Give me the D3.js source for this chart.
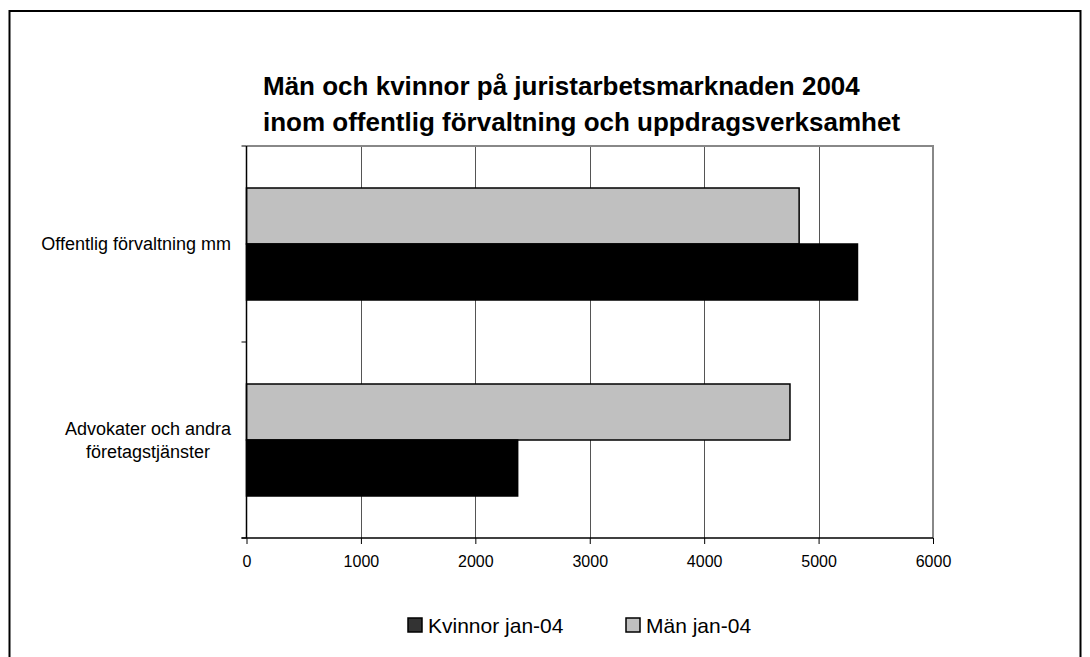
<!DOCTYPE html>
<html>
<head>
<meta charset="utf-8">
<script src="https://cdn.jsdelivr.net/npm/d3@7"></script>
<style>
  body { margin: 0; background: #fff; }
  svg { display: block; font-family: Arial, "Liberation Sans", sans-serif; }
</style>
</head>
<body>
<div id="chart"></div>
<script>
var categories = ["Offentlig förvaltning mm", "Advokater och andra företagstjänster"];
var categoryLines = [["Offentlig förvaltning mm"], ["Advokater och andra", "företagstjänster"]];
var seriesNames = ["Män jan-04", "Kvinnor jan-04"];
var manValues = [4830, 4750];
var kvinnorValues = [5340, 2370];
var xTicks = [0, 1000, 2000, 3000, 4000, 5000, 6000];
var titleLines = ["Män och kvinnor på juristarbetsmarknaden 2004", "inom offentlig förvaltning och uppdragsverksamhet"];

var width = 1090, height = 657;
var plot = { left: 246.5, right: 933, top: 146, bottom: 538 };

var svg = d3.select("#chart").append("svg")
    .attr("width", width)
    .attr("height", height);

// frame
svg.append("rect")
    .attr("x", 9.5).attr("y", 11)
    .attr("width", 1071).attr("height", 660)
    .attr("fill", "none")
    .attr("stroke", "#000")
    .attr("stroke-width", 2);

// title
svg.append("g").selectAll("text")
    .data(titleLines)
    .enter().append("text")
    .attr("x", 263)
    .attr("y", function (d, i) { return 95 + i * 36; })
    .style("font-size", "26px")
    .style("font-weight", "bold")
    .text(function (d) { return d; });

var x = d3.scaleLinear().domain([0, 6000]).range([plot.left, plot.right]);

var y = d3.scaleBand().domain(categories).range([plot.top, plot.bottom]).padding(0);

var ySub = d3.scaleBand().domain(seriesNames)
    .range([0, y.bandwidth()])
    .paddingInner(0)
    .paddingOuter(0.75);

var color = d3.scaleOrdinal().domain(seriesNames).range(["#c0c0c0", "#000000"]);

// grid lines
svg.append("g").selectAll("line")
    .data(xTicks.slice(1, -1))
    .enter().append("line")
    .attr("x1", function (d) { return Math.round(x(d)) + 0.5; })
    .attr("x2", function (d) { return Math.round(x(d)) + 0.5; })
    .attr("y1", plot.top)
    .attr("y2", plot.bottom)
    .attr("stroke", "#555")
    .attr("stroke-width", 1);

// plot border top / right
svg.append("path")
    .attr("d", "M" + plot.left + "," + plot.top + "H" + plot.right + "V" + plot.bottom)
    .attr("fill", "none")
    .attr("stroke", "#888")
    .attr("stroke-width", 2);

// bars
var rows = categories.map(function (c, i) {
    return [
        { cat: c, series: seriesNames[0], value: manValues[i] },
        { cat: c, series: seriesNames[1], value: kvinnorValues[i] }
    ];
});

var groups = svg.append("g").selectAll("g")
    .data(rows)
    .enter().append("g")
    .attr("transform", function (d) { return "translate(0," + y(d[0].cat) + ")"; });

groups.selectAll("rect")
    .data(function (d) { return d; })
    .enter().append("rect")
    .attr("x", x(0))
    .attr("y", function (d) { return ySub(d.series); })
    .attr("width", function (d) { return x(d.value) - x(0); })
    .attr("height", ySub.bandwidth())
    .attr("fill", function (d) { return color(d.series); })
    .attr("stroke", "#000")
    .attr("stroke-width", 1.5);

// x axis
var xAxis = svg.append("g")
    .attr("transform", "translate(0," + plot.bottom + ")")
    .call(d3.axisBottom(x).tickValues(xTicks).tickSize(6).tickPadding(12).tickFormat(d3.format("d")));
xAxis.select(".domain").attr("stroke", "#000").attr("stroke-width", 1.5)
    .attr("d", "M" + (plot.left - 5) + ",0H" + plot.right);
xAxis.selectAll(".tick line").attr("stroke", "#000");
xAxis.selectAll(".tick text")
    .style("font-size", "16px")
    .style("font-family", "Arial, 'Liberation Sans', sans-serif")
    .attr("fill", "#000");

// y axis
var yAxisG = svg.append("g").attr("transform", "translate(" + plot.left + ",0)");
yAxisG.append("line")
    .attr("x1", 0).attr("x2", 0)
    .attr("y1", plot.top).attr("y2", plot.bottom)
    .attr("stroke", "#000").attr("stroke-width", 1.5);
yAxisG.selectAll(".ytick")
    .data([plot.top, plot.top + y.step(), plot.bottom])
    .enter().append("line")
    .attr("x1", -5).attr("x2", 0)
    .attr("y1", function (d) { return d; })
    .attr("y2", function (d) { return d; })
    .attr("stroke", "#000");

// category labels
var labelRight = 231;
categories.forEach(function (c, i) {
    var lines = categoryLines[i];
    var cy = y(c) + y.bandwidth() / 2;
    var t = svg.append("text")
        .style("font-size", "18px")
        .attr("fill", "#000");
    lines.forEach(function (l, j) {
        t.append("tspan")
            .attr("y", cy + 6 + (j - (lines.length - 1) / 2) * 23)
            .text(l);
    });
    var maxW = 0;
    t.selectAll("tspan").each(function () {
        maxW = Math.max(maxW, this.getComputedTextLength());
    });
    t.attr("text-anchor", "middle");
    t.selectAll("tspan").attr("x", labelRight - maxW / 2);
});

// legend
var legendItems = [
    { name: seriesNames[1], fill: "#333333", x: 408 },
    { name: seriesNames[0], fill: "#c0c0c0", x: 626 }
];
var lg = svg.append("g").selectAll("g")
    .data(legendItems)
    .enter().append("g")
    .attr("transform", function (d) { return "translate(" + d.x + ",618)"; });
lg.append("rect")
    .attr("width", 14).attr("height", 14)
    .attr("fill", function (d) { return d.fill; })
    .attr("stroke", "#000").attr("stroke-width", 1.5);
lg.append("text")
    .attr("x", 20).attr("y", 14.5)
    .style("font-size", "21px")
    .text(function (d) { return d.name; });
</script>
</body>
</html>
